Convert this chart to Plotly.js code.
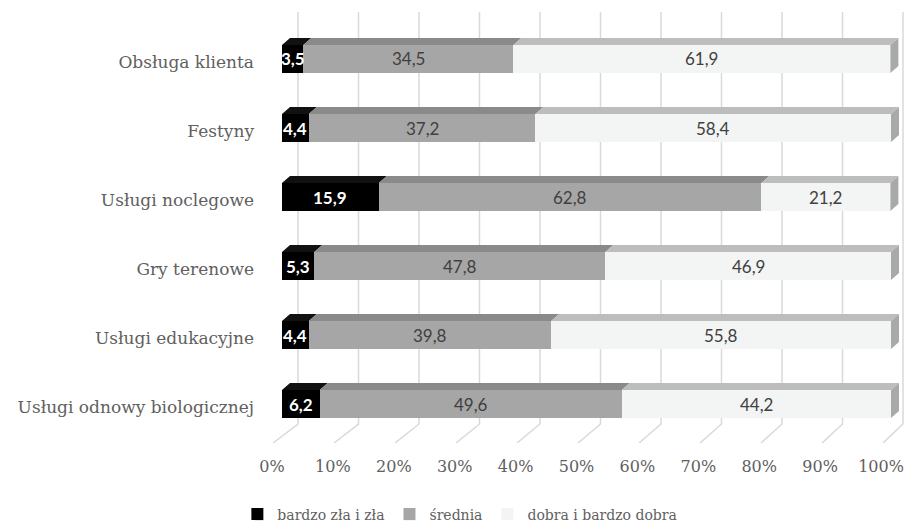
<!DOCTYPE html>
<html>
<head>
<meta charset="utf-8">
<script src="https://cdn.plot.ly/plotly-3.0.1.min.js"></script>
<style>html,body{margin:0;padding:0;background:#fff;}#chart{width:906px;height:525px;}</style>
</head>
<body>
<div id="chart"></div>
<script>
// ---- data (top to bottom) ----
const categories = ["Obsługa klienta", "Festyny", "Usługi noclegowe", "Gry terenowe", "Usługi edukacyjne", "Usługi odnowy biologicznej"];
const seriesNames = ["bardzo zła i zła", "średnia", "dobra i bardzo dobra"];
const badValues = [3.5, 4.4, 15.9, 5.3, 4.4, 6.2];
const midValues = [34.5, 37.2, 62.8, 47.8, 39.8, 49.6];
const goodValues = [61.9, 58.4, 21.2, 46.9, 55.8, 44.2];
const tickValues = [0, 10, 20, 30, 40, 50, 60, 70, 80, 90, 100];
const tickLabels = ["0%", "10%", "20%", "30%", "40%", "50%", "60%", "70%", "80%", "90%", "100%"];

// ---- styling ----
const frontColors = ["#000000", "#a6a6a6", "#f3f4f4"];
const topColors = ["#111111", "#8a8a8a", "#bdbdbd"];
const sideColor = "#a9a9a9";
const textColors = ["#ffffff", "#404040", "#404040"];
const textWeights = ["bold", "normal", "normal"];
const barW = 0.405;
const PX_X = 6.09;     // px per percent (bar front)
const PX_Y = 69;       // px per category
const depthX = 8 / PX_X, depthY = 7 / PX_Y;
const yTop = -0.681, yBottom = 5.565, yFloorBack = (424 - 59) / PX_Y;
const seriesValues = [badValues, midValues, goodValues];
const serif = "DejaVu Serif";
const sans = "Lato";
const labelGray = "#606060";

const traces = seriesValues.map((vals, s) => ({
  type: "bar",
  orientation: "h",
  name: seriesNames[s],
  y: categories,
  x: vals,
  width: barW,
  marker: { color: frontColors[s], line: { width: 0 } },
  textposition: "none",
  hoverinfo: "skip"
}));

const shapes = [];
const annotations = [];
// back wall gridlines with floor slant
tickValues.forEach(t => {
  const bx = (298 - 282 + t * 6.05) / PX_X;
  const fx = (273 - 282 + t * 6.1) / PX_X;
  shapes.push({
    type: "path", xref: "x", yref: "y", layer: "below",
    path: `M ${bx},${yTop} L ${bx},${yFloorBack} L ${fx},${yBottom}`,
    line: { color: "#d9d9d9", width: 1.5 }
  });
});
// 3D top faces, right side faces and value labels
categories.forEach((c, i) => {
  let cum = 0;
  seriesValues.forEach((vals, s) => {
    const x0 = cum, x1 = cum + vals[i];
    const yf = i - barW / 2, yb = yf - depthY;
    shapes.push({
      type: "path", xref: "x", yref: "y", layer: "above",
      path: `M ${x0},${yf} L ${x1},${yf} L ${x1 + depthX},${yb} L ${x0 + depthX},${yb} Z`,
      fillcolor: topColors[s], line: { width: 0 }
    });
    annotations.push({
      xref: "x", yref: "y", x: (x0 + x1) / 2, y: c,
      text: vals[i].toFixed(1).replace(".", ","),
      showarrow: false, xanchor: "center", yanchor: "middle",
      font: { family: sans, size: 17, color: textColors[s], weight: textWeights[s] }
    });
    cum = x1;
  });
  const yf = i - barW / 2, yfb = i + barW / 2;
  shapes.push({
    type: "path", xref: "x", yref: "y", layer: "above",
    path: `M ${cum},${yf} L ${cum + depthX},${yf - depthY} L ${cum + depthX},${yfb - depthY} L ${cum},${yfb} Z`,
    fillcolor: sideColor, line: { width: 0 }
  });
});

const layout = {
  width: 906, height: 525,
  margin: { l: 262, r: 0, t: 12, b: 82 },
  paper_bgcolor: "#ffffff", plot_bgcolor: "rgba(0,0,0,0)",
  barmode: "stack",
  showlegend: true,
  xaxis: {
    range: [(262 - 282) / PX_X, (906 - 282) / PX_X],
    tickmode: "array", tickvals: tickValues, ticktext: tickLabels,
    showgrid: false, zeroline: false, showline: false, ticks: "",
    ticklabelshift: -10, ticklabelstandoff: 12,
    tickfont: { family: serif, size: 16, color: labelGray },
    fixedrange: true
  },
  yaxis: {
    type: "category",
    range: [yBottom, yTop],
    showgrid: false, zeroline: false, showline: false, ticks: "",
    ticklabelstandoff: 7, ticklabelshift: -3,
    tickfont: { family: serif, size: 17, color: labelGray },
    fixedrange: true
  },
  legend: {
    orientation: "h", xref: "container", yref: "container",
    x: 0.262, xanchor: "left", y: 0.02, yanchor: "middle",
    font: { family: serif, size: 14, color: labelGray },
    traceorder: "normal", itemwidth: 30
  },
  annotations: annotations,
  shapes: shapes
};

Plotly.newPlot("chart", traces, layout, { displayModeBar: false, staticPlot: true });
</script>
</body>
</html>
